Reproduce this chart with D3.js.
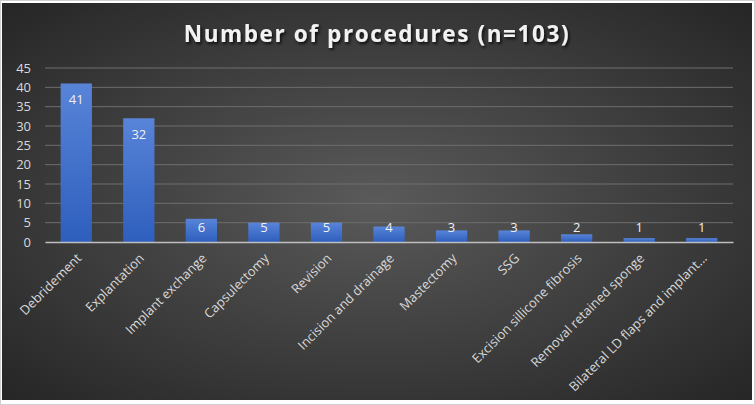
<!DOCTYPE html>
<html>
<head>
<meta charset="utf-8">
<script src="https://cdn.jsdelivr.net/npm/d3@7"></script>
<style>
  body { margin: 0; background: #fff; }
  #chart { width: 755px; height: 405px; }
  text { font-family: "Open Sans", Lato, sans-serif; }
</style>
</head>
<body>
<div id="chart"></div>
<script>
// chart data
const categories = ["Debridement", "Explantation", "Implant exchange", "Capsulectomy", "Revision",
    "Incision and drainage", "Mastectomy", "SSG", "Excision sillicone fibrosis",
    "Removal retained sponge", "Bilateral LD flaps and implant..."];
const counts = [41, 32, 6, 5, 5, 4, 3, 3, 2, 1, 1];
const yTicks = [0, 5, 10, 15, 20, 25, 30, 35, 40, 45];
const chartTitle = "Number of procedures (n=103)";

const W = 755, H = 405;
const margin = {top: 68, right: 22, bottom: 163, left: 45};

const svg = d3.select("#chart").append("svg")
    .attr("width", W)
    .attr("height", H);

const defs = svg.append("defs");

// dark radial background
const bg = defs.append("radialGradient")
    .attr("id", "bgGrad")
    .attr("cx", "50%").attr("cy", "50%").attr("r", "70%");
bg.append("stop").attr("offset", "0%").attr("stop-color", "#5a5a5a");
bg.append("stop").attr("offset", "100%").attr("stop-color", "#262626");

// bar gradient
const bg2 = defs.append("linearGradient")
    .attr("id", "barGrad")
    .attr("x1", 0).attr("y1", 0).attr("x2", 0).attr("y2", 1);
bg2.append("stop").attr("offset", "0%").attr("stop-color", "#5884d8");
bg2.append("stop").attr("offset", "100%").attr("stop-color", "#2e5fbd");

const shadow = defs.append("filter").attr("id", "txtShadow")
    .attr("x", "-10%").attr("y", "-30%").attr("width", "120%").attr("height", "160%");
shadow.append("feDropShadow")
    .attr("dx", 1.5).attr("dy", 2).attr("stdDeviation", 1.5)
    .attr("flood-color", "#000").attr("flood-opacity", 0.8);

// outer frame
svg.append("rect")
    .attr("x", 0.5).attr("y", 0.5)
    .attr("width", W - 1).attr("height", H - 1)
    .attr("fill", "#fff")
    .attr("stroke", "#d0d0d0");

svg.append("rect")
    .attr("x", 2).attr("y", 3)
    .attr("width", 750).attr("height", 397)
    .attr("fill", "url(#bgGrad)");

const width = W - margin.left - margin.right;
const height = 242 - margin.top;

const g = svg.append("g")
    .attr("transform", `translate(${margin.left},${margin.top})`);

const x = d3.scaleBand()
    .domain(categories)
    .range([0, width])
    .paddingInner(0.5)
    .paddingOuter(0.25);

const y = d3.scaleLinear()
    .domain([0, 45])
    .range([height, 0]);

// gridlines
g.append("g")
    .selectAll("line")
    .data(yTicks.filter(d => d > 0))
    .enter().append("line")
    .attr("x1", 0).attr("x2", width)
    .attr("y1", d => y(d)).attr("y2", d => y(d))
    .attr("stroke", "#6e6e6e")
    .attr("stroke-width", 1);

// y axis labels
const yAxis = d3.axisLeft(y).tickValues(yTicks).tickSize(0).tickPadding(14);
const yG = g.append("g").call(yAxis);
yG.select(".domain").remove();
yG.selectAll("text")
    .attr("fill", "#d9d9d9")
    .style("font-size", "13px");

// bars
g.selectAll(".bar")
    .data(counts)
    .enter().append("rect")
    .attr("class", "bar")
    .attr("x", (d, i) => x(categories[i]))
    .attr("y", d => y(d))
    .attr("width", x.bandwidth())
    .attr("height", d => height - y(d))
    .attr("fill", "url(#barGrad)");

// value labels
g.selectAll(".val")
    .data(counts)
    .enter().append("text")
    .attr("class", "val")
    .attr("x", (d, i) => x(categories[i]) + x.bandwidth() / 2)
    .attr("y", d => Math.min(y(d) + 16, height - 15))
    .attr("dy", "0.35em")
    .attr("text-anchor", "middle")
    .attr("fill", "#f0f0f0")
    .style("font-size", "13px")
    .text(d => d);

// x axis
const xAxis = d3.axisBottom(x).tickSize(0).tickPadding(0);
const xG = g.append("g")
    .attr("transform", `translate(0,${height})`)
    .call(xAxis);
xG.select(".domain")
    .attr("stroke", "#bfbfbf")
    .attr("stroke-width", 1.5);
xG.selectAll("text")
    .attr("fill", "#d9d9d9")
    .style("font-size", "13px")
    .attr("text-anchor", "end")
    .attr("dy", null)
    .attr("y", 0)
    .attr("transform", "translate(6,17) rotate(-45)");

// title
svg.append("text")
    .attr("x", 377)
    .attr("y", 42)
    .attr("text-anchor", "middle")
    .attr("fill", "#f2f2f2")
    .attr("filter", "url(#txtShadow)")
    .style("font-size", "22.5px")
    .style("font-weight", "bold")
    .style("letter-spacing", "1.6px")
    .text(chartTitle);
</script>
</body>
</html>
